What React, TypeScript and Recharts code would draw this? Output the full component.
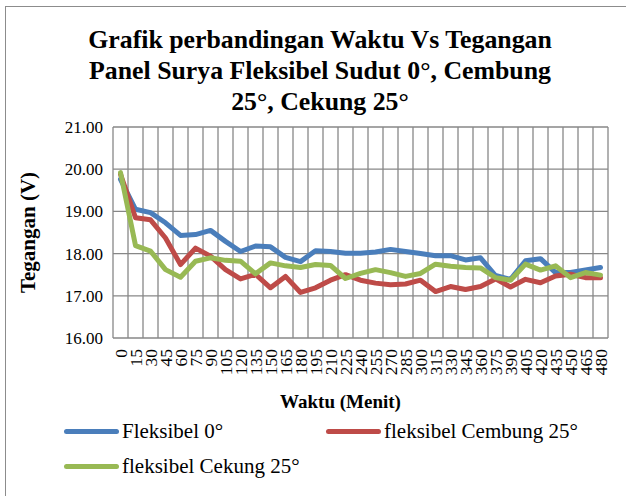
import React from 'react';
import { LineChart, Line, XAxis, YAxis, CartesianGrid } from 'recharts';

// menit pengamatan
const minutes = [
  '0', '15', '30', '45', '60', '75', '90', '105', '120', '135', '150',
  '165', '180', '195', '210', '225', '240', '255', '270', '285', '300',
  '315', '330', '345', '360', '375', '390', '405', '420', '435', '450',
  '465', '480',
];

// tegangan (V) tiap panel
const fleksibel0 = [
  19.76, 19.05, 18.97, 18.73, 18.43, 18.45, 18.55, 18.29, 18.05, 18.18, 18.16,
  17.91, 17.81, 18.07, 18.05, 18.01, 18.01, 18.04, 18.1, 18.05, 18.0,
  17.95, 17.95, 17.85, 17.9, 17.48, 17.39, 17.83, 17.88, 17.55, 17.55,
  17.61, 17.67,
];
const cembung25 = [
  19.88, 18.85, 18.8, 18.37, 17.74, 18.13, 17.94, 17.62, 17.4, 17.51, 17.19,
  17.46, 17.08, 17.19, 17.37, 17.5, 17.37, 17.3, 17.26, 17.28, 17.37,
  17.1, 17.22, 17.15, 17.22, 17.4, 17.21, 17.39, 17.31, 17.47, 17.51,
  17.43, 17.43,
];
const cekung25 = [
  19.92, 18.19, 18.06, 17.62, 17.44, 17.82, 17.9, 17.84, 17.82, 17.52, 17.78,
  17.71, 17.67, 17.74, 17.72, 17.41, 17.53, 17.62, 17.55, 17.46, 17.53,
  17.75, 17.7, 17.67, 17.66, 17.43, 17.37, 17.75, 17.61, 17.71, 17.43,
  17.55, 17.49,
];

const yTicks = [16, 17, 18, 19, 20, 21];

const series = [
  { key: 'fleksibel0', name: 'Fleksibel 0°', color: '#4A7EBB', values: fleksibel0 },
  { key: 'cembung25', name: 'fleksibel Cembung 25°', color: '#BE4B48', values: cembung25 },
  { key: 'cekung25', name: 'fleksibel Cekung 25°', color: '#98B954', values: cekung25 },
];

const data = minutes.map((m, i) => {
  const row: Record<string, string | number> = { waktu: m };
  series.forEach((s) => {
    row[s.key] = s.values[i];
  });
  return row;
});

const serif = "'Liberation Serif', 'Times New Roman', serif";
const gridColor = '#878787';

const MinuteTick = (props: any) => {
  const { x, y, payload } = props;
  return (
    <text
      transform={`translate(${x},${y + 3}) rotate(-90)`}
      textAnchor="end"
      dominantBaseline="central"
      style={{ fontFamily: serif, fontSize: 17.5 }}
      fill="#000"
    >
      {payload.value}
    </text>
  );
};

const WaktuLabel = (props: any) => {
  const { viewBox } = props;
  return (
    <text
      x={viewBox.x + viewBox.width / 2 - 20}
      y={viewBox.y + viewBox.height + 20}
      textAnchor="middle"
      style={{ fontFamily: serif, fontSize: 19, fontWeight: 'bold' }}
      fill="#000"
    >
      Waktu (Menit)
    </text>
  );
};

export default function App() {
  return (
    <div
      style={{
        position: 'absolute',
        left: 0,
        top: 0,
        width: 626,
        height: 496,
        background: '#fff',
        fontFamily: serif,
        overflow: 'hidden',
      }}
    >
      {/* bingkai grafik */}
      <div
        style={{
          position: 'absolute',
          left: 5,
          top: 6,
          width: 640,
          height: 520,
          borderLeft: '1.5px solid #8c8c8c',
          borderTop: '1.5px solid #8c8c8c',
        }}
      />
      <div
        style={{
          position: 'absolute',
          left: 0,
          width: 640,
          top: 24,
          textAlign: 'center',
          fontWeight: 'bold',
          fontSize: 25.8,
          lineHeight: '31px',
        }}
      >
        Grafik perbandingan Waktu Vs Tegangan
        <br />
        Panel Surya Fleksibel Sudut 0°, Cembung
        <br />
        25°, Cekung 25°
      </div>

      <div style={{ position: 'absolute', left: 0, top: 0 }}>
        <LineChart
          width={626}
          height={496}
          data={data}
          margin={{ top: 127, right: 18, bottom: 108, left: 5 }}
        >
          <CartesianGrid
            stroke={gridColor}
            strokeWidth={1.3}
            verticalCoordinatesGenerator={({ offset }: any) =>
              [...minutes, ''].map((_, i) => offset.left + (i * offset.width) / minutes.length)
            }
          />
          <XAxis
            dataKey="waktu"
            interval={0}
            padding={{ left: 7.5, right: 7.5 }}
            height={50}
            axisLine={false}
            tickLine={false}
            tick={<MinuteTick />}
            label={<WaktuLabel />}
          />
          <YAxis
            width={108}
            domain={[16, 21]}
            ticks={yTicks}
            allowDataOverflow
            axisLine={false}
            tickLine={false}
            tickMargin={4}
            tickFormatter={(v: number) => v.toFixed(2)}
            tick={{ fontFamily: serif, fontSize: 17, fill: '#000', style: { fontFamily: serif } }}
            label={{
              value: 'Tegangan (V)',
              angle: -90,
              position: 'insideLeft',
              offset: 23,
              style: {
                fontFamily: serif,
                fontSize: 21,
                fontWeight: 'bold',
                fill: '#000',
                textAnchor: 'middle',
              },
            }}
          />
          {series.map((s) => (
            <Line
              key={s.key}
              type="linear"
              dataKey={s.key}
              name={s.name}
              stroke={s.color}
              strokeWidth={5}
              strokeLinecap="round"
              strokeLinejoin="round"
              dot={false}
              activeDot={false}
              isAnimationActive={false}
            />
          ))}
        </LineChart>
      </div>

      {/* legenda */}
      <div
        style={{
          position: 'absolute',
          left: 64,
          top: 417,
          display: 'grid',
          gridTemplateColumns: '262px 262px',
          rowGap: 7,
          fontSize: 21,
          lineHeight: '28px',
        }}
      >
        {series.map((s) => (
          <div key={s.key} style={{ display: 'flex', alignItems: 'center', whiteSpace: 'nowrap' }}>
            <span
              style={{
                display: 'inline-block',
                width: 55,
                height: 5,
                borderRadius: 3,
                background: s.color,
                marginRight: 3,
              }}
            />
            {s.name}
          </div>
        ))}
      </div>
    </div>
  );
}
